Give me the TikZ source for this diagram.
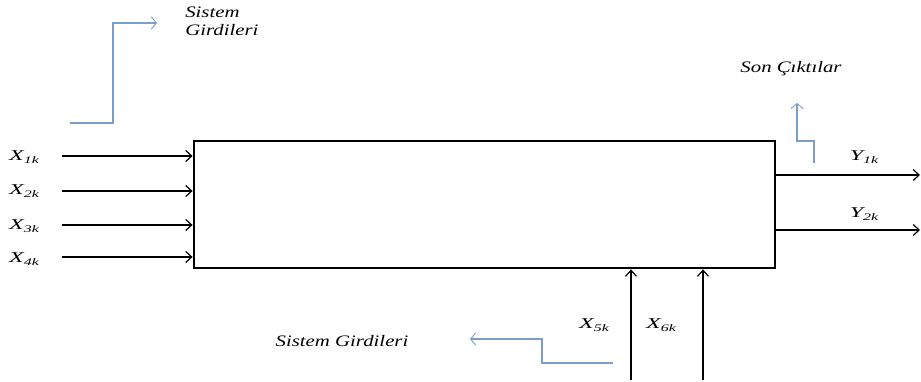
\documentclass[tikz,border=0pt]{standalone}
\usepackage{fontspec}
\setmainfont{Liberation Serif}
\usetikzlibrary{arrows.meta}
\definecolor{flowblue}{RGB}{122,158,200}
\newcommand{\vsub}[2]{#1{\fontsize{10}{11}\selectfont\raisebox{-3pt}{#2}}}
\tikzset{
  arr/.style={line width=1.5pt,-{Straight Barb[length=6pt,width=11pt,line width=1.2pt]}},
  barr/.style={draw=flowblue,line width=1.1pt,-{Straight Barb[length=5pt,width=12pt,line width=0.9pt]}},
  blab/.style={font=\fontsize{16}{18}\selectfont\itshape,inner sep=0pt,xscale=1.3},
  vlab/.style={font=\fontsize{15}{18}\selectfont\itshape,inner sep=0pt,xscale=1.6},
}
\begin{document}
\begin{tikzpicture}[x=1pt,y=-1pt]
\useasboundingbox (0,0) rectangle (921,381);
\node[draw,line width=2.8pt,minimum width=581pt,minimum height=127pt,inner sep=0pt] (sys) at (484.5,204.5) {};
% left inputs
\coordinate (x1s) at (62,156);
\coordinate (x2s) at (62,191);
\coordinate (x3s) at (62,225);
\coordinate (x4s) at (62,257);
\foreach \c in {x1s,x2s,x3s,x4s} \draw[arr] (\c) -- (sys.west |- \c);
\node[vlab] (lx1) at (24,157) {\vsub{X}{1k}};
\node[vlab] (lx2) at (24,191) {\vsub{X}{2k}};
\node[vlab] (lx3) at (24,226) {\vsub{X}{3k}};
\node[vlab] (lx4) at (24,259) {\vsub{X}{4k}};
% right outputs
\coordinate (y1e) at (920,175);
\coordinate (y2e) at (920,230);
\draw[arr] (sys.east |- y1e) -- (y1e);
\draw[arr] (sys.east |- y2e) -- (y2e);
\node[vlab] (ly1) at (864,157) {\vsub{Y}{1k}};
\node[vlab] (ly2) at (864,214) {\vsub{Y}{2k}};
% bottom inputs
\coordinate (x5s) at (631,380);
\coordinate (x6s) at (703,380);
\draw[arr] (x5s) -- (sys.south -| x5s);
\draw[arr] (x6s) -- (sys.south -| x6s);
\node[vlab] (lx5) at (594,325) {\vsub{X}{5k}};
\node[vlab] (lx6) at (661,325) {\vsub{X}{6k}};
% blue annotation arrows
\coordinate (b1s) at (70,123);
\coordinate (b1t) at (157,23);
\draw[barr] (b1s) -- (113,123) -- (113,23) -- (b1t);
\node[blab,anchor=west] (t1a) at (185,12) {Sistem};
\node[blab,anchor=west] (t1b) at (185,30) {Girdileri};
\coordinate (b2s) at (814,163);
\coordinate (b2t) at (797,103);
\draw[barr] (b2s) -- (814,141) -- (797,141) -- (b2t);
\node[blab] (t2) at (791,69) {Son Çıktılar};
\coordinate (b3s) at (613,363);
\coordinate (b3t) at (470,339);
\draw[barr] (b3s) -- (542,363) -- (542,339) -- (b3t);
\node[blab] (t3) at (342,341) {Sistem Girdileri};
\end{tikzpicture}
\end{document}
